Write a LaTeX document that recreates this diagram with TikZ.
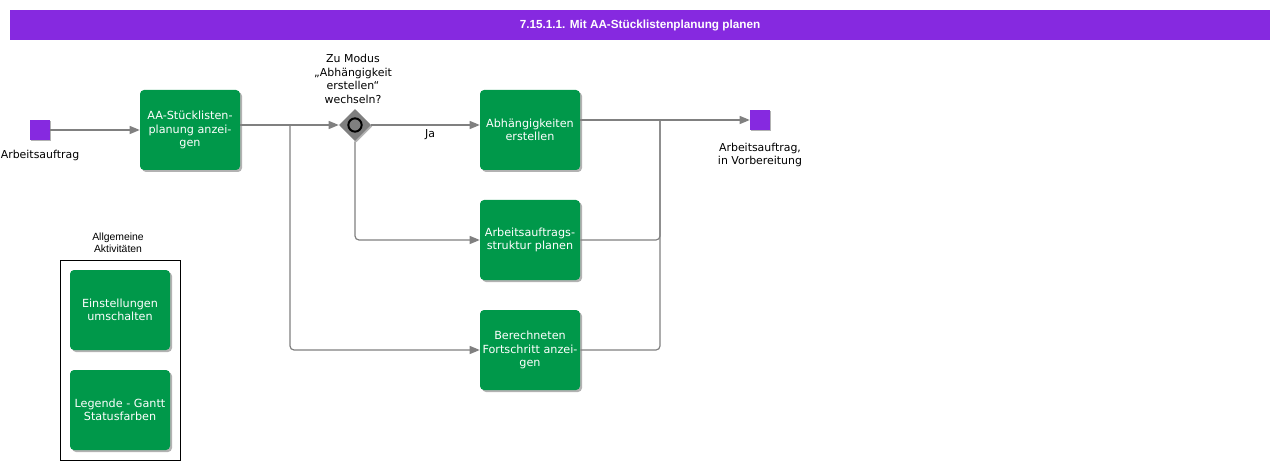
\documentclass[tikz,border=0pt]{standalone}
\usepackage{fontspec}
\setmainfont{DejaVu Sans}
\newfontfamily\arialfont{Liberation Sans}
\usetikzlibrary{arrows.meta}
\usetikzlibrary{shadows}
\usetikzlibrary{shapes.geometric}
\definecolor{taskgreen}{HTML}{00984A}
\definecolor{evtpurple}{HTML}{8629E0}
\definecolor{linegray}{HTML}{808080}
\definecolor{gwgray}{HTML}{7F7F7F}

\begin{document}
\begin{tikzpicture}[x=0.75pt,y=-0.75pt,
    task/.style={shape=rectangle, rounded corners=3pt, fill=taskgreen, text=white,
      minimum width=75pt, minimum height=60pt, inner sep=0pt, align=center,
      font=\fontsize{8.4}{10}\selectfont,
      drop shadow={shadow xshift=1.5pt, shadow yshift=-1.5pt, opacity=0.3, fill=black}},
    evt/.style={shape=rectangle, fill=evtpurple, minimum size=15pt, inner sep=0pt,
      drop shadow={shadow xshift=1pt, shadow yshift=-1pt, opacity=0.3, fill=black}},
    lbl/.style={align=center, font=\fontsize{8.2}{10.2}\selectfont, inner sep=0pt},
    flow/.style={draw=linegray, line width=0.9pt, rounded corners=3pt},
    ->/.style={flow, -{Triangle[length=7.5pt, width=6pt, fill=linegray]}}]
  \useasboundingbox (0,0) rectangle (1280,470);

  % title bar
  \node[shape=rectangle, fill=evtpurple, minimum width=945pt, minimum height=22.5pt, inner sep=0pt,
    text=white, font=\arialfont\bfseries\fontsize{8.8}{10}\selectfont] (title) at (640,25)
    {7.15.1.1. Mit AA-Stücklistenplanung planen};

  % events
  \node[evt] (start) at (40,130) {};
  \node[lbl] (startlbl) at (40,155) {Arbeitsauftrag};
  \node[evt] (end) at (760,120) {};
  \node[lbl] (endlbl) at (760,155) {Arbeitsauftrag,\\in Vorbereitung};

  % tasks
  \node[task] (stueckl) at (190,130) {AA-Stücklisten-\\planung anzei-\\gen};
  \node[task] (abh) at (530,130) {Abhängigkeiten\\erstellen};
  \node[task] (struktur) at (530,240) {Arbeitsauftrags-\\struktur planen};
  \node[task] (fortschr) at (530,350) {Berechneten\\Fortschritt anzei-\\gen};

  % gateway
  \node[shape=diamond, fill=gwgray, minimum width=24pt, minimum height=24pt, inner sep=0pt,
    drop shadow={shadow xshift=1pt, shadow yshift=-1pt, opacity=0.3, fill=black}] (gw) at (355,125) {};
  \node[shape=circle, draw=black, line width=1.5pt, fill=gwgray, minimum size=10pt, inner sep=0pt] (gwring) at (gw) {};
  \node[lbl] (gwlbl) at (353,79) {Zu Modus\\„Abhängigkeit\\erstellen“\\wechseln?};
  \node[lbl] (ja) at (430,135) {Ja};

  % general activities
  \node[draw=black, line width=0.6pt, minimum width=90pt, minimum height=150pt, inner sep=0pt] (grp) at (120,360) {};
  \node[align=center, font=\arialfont\fontsize{7.8}{9}\selectfont, inner sep=0pt] (grplbl) at (118,243) {Allgemeine\\Aktivitäten};
  \node[task] (einst) at (120,310) {Einstellungen\\umschalten};
  \node[task] (legende) at (120,410) {Legende - Gantt\\Statusfarben};

  % connectors
  \coordinate (split) at (290,125);
  \coordinate (merge) at (660,120);
  \draw[->] (start.east) -- (stueckl.west);
  \draw[->] (stueckl.east |- split) -- (gw.west);
  \draw[->] (gw.east) -- (abh.west |- gw);
  \draw[->] (gw.south) |- (struktur.west);
  \draw[->] (split) |- (fortschr.west);
  \draw[->] (abh.east |- merge) -- (end.west);
  \draw[flow] (struktur.east) -| (merge);
  \draw[flow] (fortschr.east) -| (merge);
\end{tikzpicture}
\end{document}
